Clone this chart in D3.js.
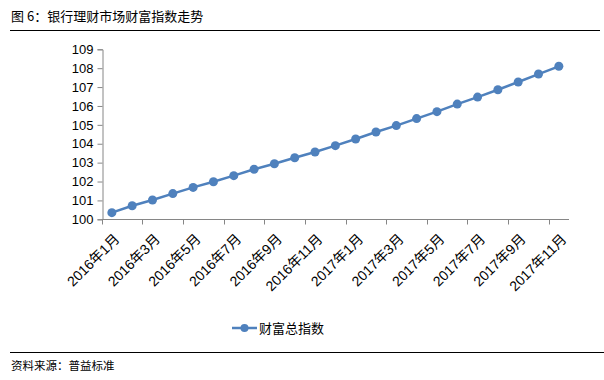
<!DOCTYPE html>
<html><head><meta charset="utf-8">
<script src="https://cdn.jsdelivr.net/npm/d3@7"></script>
<style>
body{margin:0;background:#fff;}
svg{display:block;}
text{font-family:"Liberation Sans",Arial,"Noto Sans CJK SC",sans-serif;}
</style></head>
<body>
<script>
const title = "图 6：银行理财市场财富指数走势";
const source = "资料来源：普益标准";
const seriesName = "财富总指数";
const months = ["2016年1月","2016年2月","2016年3月","2016年4月","2016年5月","2016年6月","2016年7月","2016年8月","2016年9月","2016年10月","2016年11月","2016年12月",
  "2017年1月","2017年2月","2017年3月","2017年4月","2017年5月","2017年6月","2017年7月","2017年8月","2017年9月","2017年10月","2017年11月"];
const values = [100.35,100.72,101.02,101.36,101.69,101.99,102.31,102.65,102.94,103.26,103.56,103.90,
  104.25,104.62,104.96,105.33,105.70,106.10,106.47,106.86,107.27,107.69,108.10];
const yTicks = [100,101,102,103,104,105,106,107,108,109];

(function(){
const W = 604, H = 380;
const svg = d3.select("body").append("svg").attr("width", W).attr("height", H);
const cjk = '"Noto Sans CJK SC",sans-serif';

svg.append("text").attr("x", 11).attr("y", 21).attr("font-size", 13).style("font-family", cjk)
  .attr("fill", "#000").text(title);
svg.append("line").attr("x1", 10).attr("x2", 600).attr("y1", 30.5).attr("y2", 30.5).attr("stroke", "#000").attr("stroke-width", 1);

const mLeft = 101.7, mRight = 569, mTop = 49.3, mBottom = 219.3;
const x = d3.scaleBand().domain(months).range([mLeft, mRight]).padding(0);
const y = d3.scaleLinear().domain([100, 109]).range([mBottom, mTop]);

// Y axis
const yAxis = svg.append("g").attr("transform", `translate(${Math.round(mLeft)+0.5},0)`)
  .call(d3.axisLeft(y).tickValues(yTicks).tickSize(5).tickPadding(4).tickFormat(d3.format("d")));
yAxis.select(".domain").attr("stroke", "#868686");
yAxis.selectAll(".tick line").attr("stroke", "#868686");
yAxis.selectAll("text").attr("font-size", 13).attr("fill", "#000").style("font-family", '"Liberation Sans",Arial,sans-serif');

// X axis
const xg = svg.append("g").attr("transform", `translate(0,${Math.round(mBottom)+0.5})`);
xg.append("line").attr("x1", mLeft).attr("x2", mRight).attr("y1", 0).attr("y2", 0).attr("stroke", "#868686");
const bounds = months.filter((d, i) => i % 2 === 0);
xg.selectAll("line.tk").data(bounds).enter().append("line").attr("class", "tk")
  .attr("x1", d => Math.round(x(d)) + 0.5).attr("x2", d => Math.round(x(d)) + 0.5)
  .attr("y1", 0).attr("y2", 5).attr("stroke", "#868686");
xg.selectAll("text").data(bounds).enter().append("text")
  .attr("transform", d => `translate(${x(d) + x.bandwidth() / 2 + 5},${17}) rotate(-45)`)
  .attr("text-anchor", "end").attr("dy", "0.35em")
  .attr("font-size", 14).attr("fill", "#000")
  .style("font-family", '"Liberation Sans","Noto Sans CJK SC",sans-serif')
  .text(d => d);

// Line
const color = "#4f81bd";
const line = d3.line().x((d, i) => x(months[i]) + x.bandwidth() / 2).y(d => y(d));
svg.append("path").datum(values).attr("d", line).attr("fill", "none").attr("stroke", color).attr("stroke-width", 2.5);
svg.selectAll("circle.pt").data(values).enter().append("circle").attr("class", "pt")
  .attr("cx", (d, i) => x(months[i]) + x.bandwidth() / 2).attr("cy", d => y(d)).attr("r", 4.5).attr("fill", color);

// Legend
const ly = 328;
svg.append("line").attr("x1", 232).attr("x2", 257).attr("y1", ly).attr("y2", ly).attr("stroke", color).attr("stroke-width", 2.5);
svg.append("circle").attr("cx", 244.5).attr("cy", ly).attr("r", 4).attr("fill", color);
svg.append("text").attr("x", 259).attr("y", ly + 5).attr("font-size", 13).style("font-family", cjk).attr("fill", "#000").text(seriesName);

// Footer
svg.append("line").attr("x1", 10).attr("x2", 604).attr("y1", 352.5).attr("y2", 352.5).attr("stroke", "#000").attr("stroke-width", 1);
svg.append("text").attr("x", 11).attr("y", 370).attr("font-size", 11.5).style("font-family", cjk).attr("fill", "#000").text(source);
})();
</script>
</body></html>
